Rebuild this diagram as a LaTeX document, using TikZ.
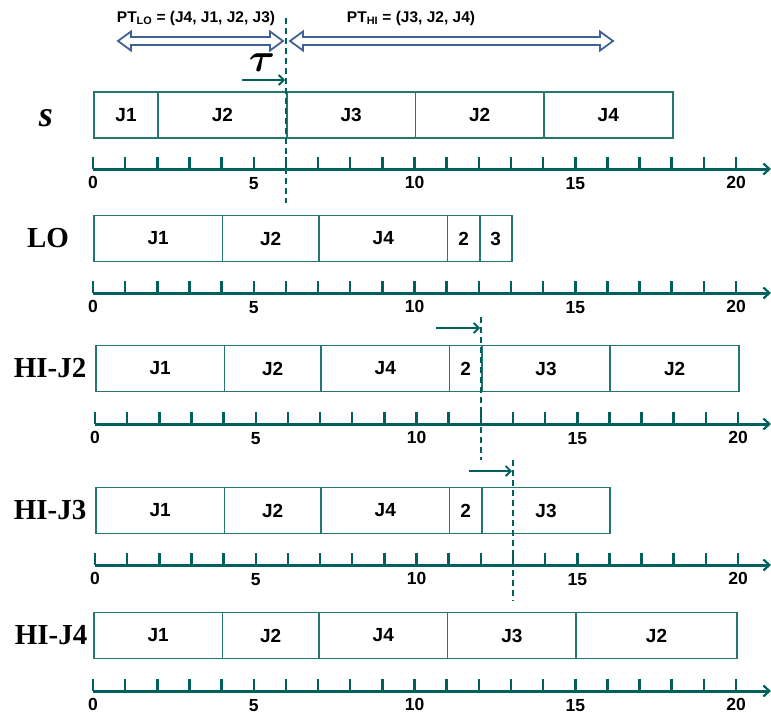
\RequirePackage{fix-cm}
\documentclass[tikz,border=0pt]{standalone}
\usepackage{amsmath}
\usepackage{fontspec}
\setmainfont{Liberation Sans}
\newfontfamily\rowfont{Liberation Serif}
\usetikzlibrary{arrows.meta}

\definecolor{axisteal}{RGB}{0,96,92}
\definecolor{boxteal}{RGB}{38,118,112}
\definecolor{ptblue}{RGB}{62,98,148}

\tikzset{
  jobbox/.style={draw=boxteal, line width=1.8pt, minimum height=46pt, inner sep=0pt,
    font=\fontsize{19}{19}\selectfont\bfseries},
  axisline/.style={axisteal, line width=3pt, -{Straight Barb[length=6pt,width=11pt,line width=2.2pt]}},
  tickline/.style={axisteal, line width=2.5pt},
  ticklabel/.style={font=\fontsize{17.5}{17.5}\selectfont\bfseries, inner sep=0pt},
  rowlabel/.style={font=\rowfont\fontsize{29}{29}\selectfont\bfseries, inner sep=0pt},
  cutline/.style={axisteal, line width=2pt, dash pattern=on 6pt off 4pt},
  shiftarrow/.style={axisteal, line width=2pt, -{Straight Barb[length=5pt,width=10pt,line width=1.8pt]}},
  dblarrow/.style={draw=ptblue, line width=1.8pt, line join=miter, fill=white},
  ptlabel/.style={font=\fontsize{15.5}{15.5}\selectfont\bfseries, inner sep=0pt}
}

% one job segment: name, row origin x, row centre y, start, end, text
\newcommand\jobseg[6]{%
  \pgfmathsetmacro\segx{#2+32.15*#4}%
  \pgfmathsetmacro\segw{32.15*(#5-#4)}%
  \node[jobbox, minimum width=\segw pt, anchor=west] (#1) at (\segx,#3) {#6};%
}

% time axis 0..20: name prefix, origin x, axis y
\newcommand\timeaxis[3]{%
  \coordinate (#1-o) at (#2,#3);
  \coordinate (#1-end) at (771,#3);
  \foreach \k in {0,...,20} {\draw[tickline] ({#2+32.15*\k},#3) -- ++(0,-12);}
  \draw[axisline] (#1-o) -- (#1-end);
  \node[ticklabel] (#1-l0) at (#2,#3+13) {0};
  \node[ticklabel] (#1-l5) at ({#2+32.15*5},#3+15) {5};
  \node[ticklabel] (#1-l10) at ({#2+32.15*10},#3+13) {10};
  \node[ticklabel] (#1-l15) at ({#2+32.15*15},#3+15) {15};
  \node[ticklabel] (#1-l20) at ({#2+32.15*20},#3+13) {20};
}

\begin{document}
\begin{tikzpicture}[x=1pt, y=-1pt]
\useasboundingbox (0,0) rectangle (771,715);

% priority tables above the first schedule
\draw[dblarrow] (118,41) -- (131,31.5) -- (131,37) -- (270,37) -- (270,31.5) -- (283,41)
  -- (270,50.5) -- (270,45) -- (131,45) -- (131,50.5) -- cycle;
\draw[dblarrow] (290,41) -- (303,31.5) -- (303,37) -- (600,37) -- (600,31.5) -- (613,41)
  -- (600,50.5) -- (600,45) -- (303,45) -- (303,50.5) -- cycle;
\node[ptlabel] (ptlo) at (196,18) {PT\textsubscript{LO} = (J4, J1, J2, J3)};
\node[ptlabel] (pthi) at (411,18) {PT\textsubscript{HI} = (J3, J2, J4)};

% row s
\node[rowlabel, font=\rowfont\fontsize{36}{36}\selectfont\bfseries\itshape] (lab-s) at (46,118) {s};
\jobseg{s1}{93}{115}{0}{2}{J1}
\jobseg{s2}{93}{115}{2}{6}{J2}
\jobseg{s3}{93}{115}{6}{10}{J3}
\jobseg{s4}{93}{115}{10}{14}{J2}
\jobseg{s5}{93}{115}{14}{18}{J4}
\timeaxis{ax1}{93}{169}

% row LO
\node[rowlabel] (lab-lo) at (48,238.5) {LO};
\jobseg{lo1}{93}{238.5}{0}{4}{J1}
\jobseg{lo2}{93}{238.5}{4}{7}{J2}
\jobseg{lo3}{93}{238.5}{7}{11}{J4}
\jobseg{lo4}{93}{238.5}{11}{12}{2}
\jobseg{lo5}{93}{238.5}{12}{13}{3}
\timeaxis{ax2}{93}{293}

% row HI-J2
\node[rowlabel] (lab-h2) at (50,368.5) {HI-J2};
\jobseg{ha1}{95}{368.5}{0}{4}{J1}
\jobseg{ha2}{95}{368.5}{4}{7}{J2}
\jobseg{ha3}{95}{368.5}{7}{11}{J4}
\jobseg{ha4}{95}{368.5}{11}{12}{2}
\jobseg{ha5}{95}{368.5}{12}{16}{J3}
\jobseg{ha6}{95}{368.5}{16}{20}{J2}
\timeaxis{ax3}{95}{424}

% row HI-J3
\node[rowlabel] (lab-h3) at (50,510.5) {HI-J3};
\jobseg{hb1}{95}{510.5}{0}{4}{J1}
\jobseg{hb2}{95}{510.5}{4}{7}{J2}
\jobseg{hb3}{95}{510.5}{7}{11}{J4}
\jobseg{hb4}{95}{510.5}{11}{12}{2}
\jobseg{hb5}{95}{510.5}{12}{16}{J3}
\timeaxis{ax4}{95}{565}

% row HI-J4
\node[rowlabel] (lab-h4) at (51,635.5) {HI-J4};
\jobseg{hc1}{93}{635.5}{0}{4}{J1}
\jobseg{hc2}{93}{635.5}{4}{7}{J2}
\jobseg{hc3}{93}{635.5}{7}{11}{J4}
\jobseg{hc4}{93}{635.5}{11}{15}{J3}
\jobseg{hc5}{93}{635.5}{15}{20}{J2}
\timeaxis{ax5}{93}{691}

% switch instants
\coordinate (c1t) at (286,18);
\coordinate (c1b) at (286,203);
\coordinate (c2t) at (480.8,317);
\coordinate (c2b) at (480.8,460);
\coordinate (c3t) at (513,460);
\coordinate (c3b) at (513,601);
\draw[cutline] (c1t) -- (c1b);
\draw[cutline] (c2t) -- (c2b);
\draw[cutline] (c3t) -- (c3b);

% shift markers
\node[font=\fontsize{40}{40}\selectfont] (tau) at (262,63) {$\boldsymbol{\tau}$};
\coordinate (a1s) at (242,80);
\coordinate (a1e) at (285,80);
\coordinate (a2s) at (436,328);
\coordinate (a2e) at (480,328);
\coordinate (a3s) at (469,471);
\coordinate (a3e) at (512,471);
\draw[shiftarrow] (a1s) -- (a1e);
\draw[shiftarrow] (a2s) -- (a2e);
\draw[shiftarrow] (a3s) -- (a3e);
\end{tikzpicture}
\end{document}
